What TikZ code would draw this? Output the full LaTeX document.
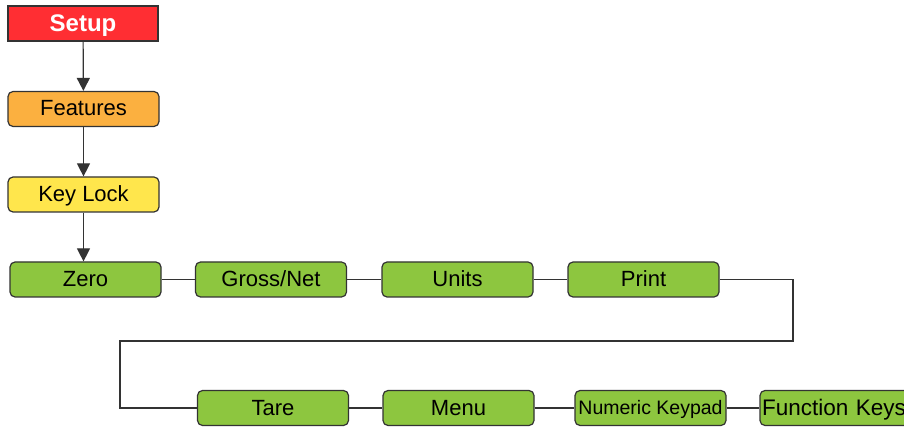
\documentclass[tikz,border=0pt]{standalone}
\usepackage{fontspec}
\setmainfont{Liberation Sans}
\usetikzlibrary{arrows.meta}
\definecolor{redbox}{HTML}{FF2E33}
\definecolor{orangebox}{HTML}{FBB040}
\definecolor{yellowbox}{HTML}{FFE64C}
\definecolor{greenbox}{HTML}{8DC63F}
\definecolor{edge}{HTML}{333333}
\begin{document}
\begin{tikzpicture}[x=1pt,y=-1pt,
  box/.style={draw=edge,line width=1.2pt,rounded corners=5pt,minimum width=151pt,minimum height=35pt,inner sep=0pt,text height=18.5pt,text depth=4.5pt,font=\fontsize{22}{24}\selectfont},
  setupbox/.style={draw=edge,line width=2.5pt,fill=redbox,minimum width=150pt,minimum height=35pt,inner sep=0pt,text height=22pt,text depth=5pt,text=white,font=\fontsize{24}{26}\selectfont\bfseries},
  link/.style={draw=edge,line width=1.2pt},
  arr/.style={link,-{Triangle[width=13pt,length=13pt]}}]
\clip (0,0) rectangle (904,427);
\fill[white] (0,0) rectangle (904,427);
\node[setupbox] (setup) at (83,23.5) {Setup};
\node[box,fill=orangebox] (features) at (83.5,109) {Features};
\node[box,fill=yellowbox] (keylock) at (83.5,194.5) {Key Lock};
\node[box,fill=greenbox] (zero) at (85.5,279.5) {Zero};
\node[box,fill=greenbox] (gross) at (271,279.5) {Gross/Net};
\node[box,fill=greenbox] (units) at (457.5,279.5) {Units};
\node[box,fill=greenbox] (print) at (643.5,279.5) {Print};
\node[box,fill=greenbox] (tare) at (273,408) {Tare};
\node[box,fill=greenbox] (menu) at (458.5,408) {Menu};
\node[box,fill=greenbox,text height=17.5pt,text depth=4pt,font=\fontsize{19.5}{21}\selectfont] (numeric) at (650.5,408) {Numeric Keypad};
\node[box,fill=greenbox,minimum width=160pt,text width=156pt,align=left,text height=19.5pt,text depth=4.5pt,font=\fontsize{22.5}{24}\selectfont] (function) at (840,408) {Function Keys};
\coordinate (c1) at (793,341);
\coordinate (c2) at (120,341);
\draw[arr] (setup) -- (features);
\draw[arr] (features) -- (keylock);
\draw[arr] (keylock.south) -- (keylock.south |- zero.north);
\draw[link] (zero) -- (gross);
\draw[link] (gross) -- (units);
\draw[link] (units) -- (print);
\draw[link] (print.east) -| (c1) -- (c2) |- (tare.west);
\draw[link] (tare) -- (menu);
\draw[link] (menu) -- (numeric);
\draw[link] (numeric) -- (function);
\end{tikzpicture}
\end{document}
